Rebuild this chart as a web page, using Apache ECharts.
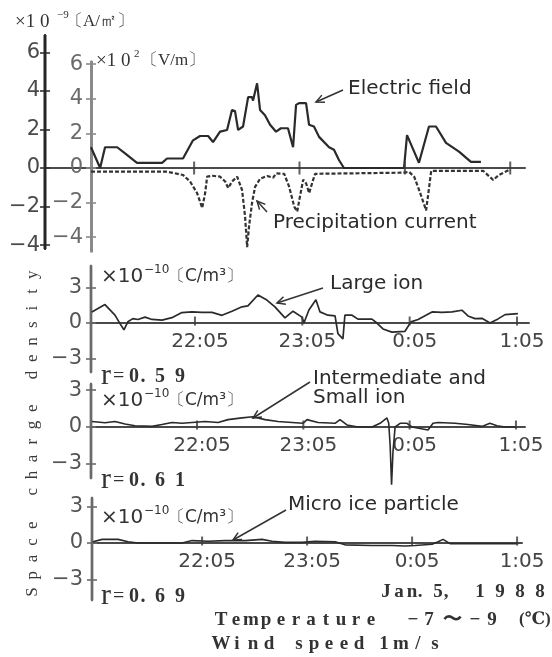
<!DOCTYPE html>
<html><head><meta charset="utf-8">
<script src="https://cdn.jsdelivr.net/npm/echarts@6/dist/echarts.min.js"></script>
<style>html,body{margin:0;padding:0;background:#fff}#c{width:552px;height:657px}</style>
</head><body><div id="c"></div>
<script>
// Time is counted in minutes after 20:00.
const tickTimes = [125, 185, 245, 305];
const timeLabels = ['22:05', '23:05', '0:05', '1:05'];
const fieldTicks = [-4, -2, 0, 2, 4, 6];
const chargeTicks = [-3, 0, 3];

// Electric field, ×10² V/m
const electricField = [[66.3,1.2],[71.5,0],[74.3,1.2],[81.2,1.2],[85.7,0.85],[92.5,0.3],[106.8,0.3],[109.6,0.55],[118.7,0.55],[124.4,1.6],[128.4,1.85],[133.0,1.85],[135.8,1.5],[139.8,2.1],[143.8,2.2],[146.6,3.35],[148.3,3.3],[150.1,2.2],[152.9,2.4],[155.8,4.1],[158.0,4.1],[158.6,3.9],[160.9,4.9],[162.6,3.35],[165.4,3.05],[168.3,2.5],[171.7,2.1],[174.5,2.3],[178.5,2.3],[181.4,1.2],[183.1,3.65],[184.8,3.75],[188.8,3.75],[190.5,2.5],[193.3,2.4],[196.2,1.8],[201.9,1.2],[204.7,1.05],[207.6,0.45],[210.4,0],[244.6,0],[246.3,1.9],[253.1,0.3],[258.8,2.4],[262.8,2.4],[268.5,1.45],[275.9,0.95],[282.7,0.35],[288.4,0.35]];

// Precipitation current, ×10⁻⁹ A/m²
const precipCurrent = [[66.3,-0.19],[109.6,-0.19],[113.0,-0.25],[118.7,-0.36],[122.7,-0.7],[126.7,-1.3],[129.6,-2.07],[131.3,-1.3],[132.4,-0.45],[135.3,-0.4],[139.8,-0.45],[142.7,-0.7],[144.4,-1.04],[146.6,-0.7],[149.5,-0.45],[152.3,-1.14],[154.0,-2.5],[155.2,-4.1],[156.3,-3.0],[158.0,-1.8],[159.7,-0.98],[162.6,-0.55],[166.6,-0.41],[170.0,-0.5],[171.7,-0.28],[176.3,-0.3],[179.1,-0.97],[182.0,-2.0],[183.7,-2.26],[184.8,-1.7],[187.1,-0.6],[188.8,-0.8],[190.5,-1.3],[192.8,-0.6],[193.9,-0.3],[244.0,-0.24],[247.4,-0.2],[250.3,-0.45],[253.1,-1.14],[256.0,-1.9],[257.1,-2.2],[258.8,-1.0],[260.0,-0.15],[289.6,-0.15],[295.3,-0.62],[298.7,-0.35],[304.4,-0.1]];

// Space charge densities, ×10⁻¹⁰ C/m³
const largeIon = [[67.4,0.94],[74.7,1.56],[80.3,0.67],[83.1,-0.05],[85.3,-0.57],[87.5,0.1],[90.3,0.37],[93.1,0.3],[97.1,0.5],[101.0,0.3],[106.6,0.25],[112.1,0.45],[117.7,0.88],[123.3,0.94],[128.9,0.9],[134.5,0.9],[140.1,0.65],[145.7,1.0],[151.3,1.37],[154.6,1.45],[160.2,2.37],[165.2,1.94],[169.7,1.37],[175.3,0.43],[179.8,1.0],[184.8,0.5],[185.9,0.0],[188.7,1.1],[192.6,1.97],[194.9,0.94],[199.3,0.66],[203.3,0.6],[204.9,-0.9],[207.7,-1.34],[208.8,0.66],[212.8,0.66],[216.1,0.33],[223.9,0.33],[226.7,0],[230.1,-0.5],[235.1,-0.77],[242.4,-0.7],[245.7,0.1],[249.7,0.3],[257.5,0.94],[263.1,0.9],[268.7,0.94],[274.2,1.08],[277.6,0.6],[281.5,0.37],[285.4,0.4],[289.9,0],[294.4,0.35],[298.3,0.71],[305.5,0.8]];

const smallIon = [[65.7,0.45],[73.1,0.35],[78.7,0.45],[84.4,0.25],[90.0,0.1],[99.6,0.05],[105.2,0.2],[110.9,0.37],[116.5,0.3],[122.2,0.37],[129.5,0.45],[136.9,0.37],[142.5,0.6],[150.4,0.74],[156.6,0.83],[163.4,0.6],[170.7,0.45],[178.6,0.37],[184.8,0.3],[187.1,0.6],[193.3,0.37],[202.9,0.3],[205.7,0.6],[206.8,0.74],[209.6,0.17],[215.9,0],[223.8,0],[228.3,0.3],[232.2,0.74],[233.2,0.3],[234.0,-1.5],[234.8,-4.7],[235.6,-2.0],[236.8,0],[239.6,0.3],[243.5,0.3],[246.3,0],[255.4,-0.25],[258.2,0.3],[261.0,0.37],[270.6,0.3],[277.9,0.2],[285.8,0.05],[290.3,0.3],[294.3,0.1],[298.8,0],[304.5,0]];

const microIce = [[62.7,0.1],[67.9,0.3],[77.0,0.3],[82.7,0.1],[88.4,0],[113.6,0],[119.3,0.2],[128.4,0.15],[138.1,0.2],[149.6,0.2],[159.3,0.3],[165.0,0.15],[172.4,0.05],[182.1,0.05],[189.6,0.15],[201.0,0.1],[206.7,-0.15],[222.1,-0.2],[233.6,-0.2],[241.0,-0.25],[246.7,-0.2],[256.4,-0.1],[259.9,0.1],[262.7,0.3],[266.7,-0.05],[273.6,-0.05],[305.6,-0.05]];

const correlations = ['0.59', '0.61', '0.69'];

const SANS = '"DejaVu Sans", sans-serif';
const SERIF = '"Liberation Serif", "DejaVu Serif", serif';
const minus = v => String(v).replace('-', '\u2212');

// panel layout: grid box and the value range of each axis
const panels = [
  { grid: { left: 45, top: 35, width: 480, height: 214 }, x: [40.1, 313.4], y: [-4.2, 6.9] },
  { grid: { left: 91, top: 62, width: 434, height: 189 }, x: [66.3, 313.5], y: [-4.8, 6.13] },
  { grid: { left: 91, top: 266, width: 438, height: 106 }, x: [66.9, 311.7], y: [-4.14, 4.82] },
  { grid: { left: 91, top: 384, width: 434, height: 94 }, x: [65.18, 310.1], y: [-4.15, 3.5] },
  { grid: { left: 92, top: 498, width: 430, height: 102 }, x: [62.1, 307.8], y: [-4.67, 3.69] }
];

// main y axis plus a twin that draws the inner half of each "+" tick
function yPair(gi, ticks, lineColor, lineWidth, labelColor, margin) {
  const p = panels[gi];
  const base = { gridIndex: gi, type: 'value', position: 'left', offset: 0,
                 min: p.y[0], max: p.y[1], splitLine: { show: false } };
  const line = { show: true, onZero: false, lineStyle: { color: lineColor, width: lineWidth } };
  return [
    Object.assign({}, base, {
      axisLine: line,
      axisTick: { show: true, customValues: ticks, length: 5, lineStyle: { color: lineColor, width: 1.6 } },
      axisLabel: { customValues: ticks, formatter: minus, fontSize: 21, fontFamily: SANS, color: labelColor, margin }
    }),
    Object.assign({}, base, {
      axisLine: line,
      axisTick: { show: true, inside: true, customValues: ticks, length: 5, lineStyle: { color: lineColor, width: 1.6 } },
      axisLabel: { show: false }
    })
  ];
}

// time axis drawn along the zero level of its panel
function xAxisFor(gi, labels) {
  const p = panels[gi];
  const zeroFromBottom = (0 - p.y[0]) / (p.y[1] - p.y[0]) * p.grid.height;
  return {
    gridIndex: gi, type: 'value', position: 'bottom', offset: -zeroFromBottom,
    min: p.x[0], max: p.x[1], splitLine: { show: false },
    axisLine: { show: true, onZero: false, lineStyle: { color: '#4a4a4a', width: 2 } },
    axisTick: { show: false },
    axisLabel: labels ? {
      customValues: tickTimes,
      formatter: v => timeLabels[tickTimes.indexOf(v)],
      fontSize: 20, fontFamily: SANS, color: '#444', margin: 9, padding: [0, 0, 0, 10]
    } : { show: false }
  };
}

function lineSeries(name, data, xi, yi, width, extra) {
  return Object.assign({
    name, type: 'line', data, xAxisIndex: xi, yAxisIndex: yi, symbol: 'none',
    clip: false, lineStyle: { color: '#2a2a2a', width }, z: 3
  }, extra || {});
}
function tickMarks(xi, yi, h, off) {
  return {
    type: 'scatter', xAxisIndex: xi, yAxisIndex: yi, silent: true, clip: false,
    data: tickTimes.map(t => [t, 0]), symbol: 'rect', symbolSize: [2, h], symbolOffset: [0, off],
    itemStyle: { color: '#3a3a3a' }, z: 4
  };
}

// text helpers
function txt(x, y, text, font, fill, align, extra) {
  return Object.assign({
    type: 'text', x, y, silent: true,
    style: { text, font, fill: fill || '#333', align: align || 'left', verticalAlign: 'middle',
             textAlign: align || 'left', textVerticalAlign: 'middle' }
  }, extra || {});
}
function spaced(str, x0, y, pitch, font, fill) {
  return str.split('').map((ch, i) => txt(x0 + i * pitch, y, ch, font, fill, 'center'));
}
function placed(chars, xs, y, font, fill) {
  return chars.map((ch, i) => txt(xs[i], y, ch, font, fill, 'center'));
}
function arrow(x1, y1, x2, y2, head) {
  const a = Math.atan2(y2 - y1, x2 - x1), L = 9, s = 0.45;
  const out = [{ type: 'polyline', silent: true, shape: { points: [[x1, y1], [x2, y2]] },
                 style: { stroke: '#333', lineWidth: 1.5, fill: null } }];
  if (head) out.push({ type: 'polyline', silent: true,
    shape: { points: [[x2 - L * Math.cos(a - s), y2 - L * Math.sin(a - s)], [x2, y2],
                      [x2 - L * Math.cos(a + s), y2 - L * Math.sin(a + s)]] },
    style: { stroke: '#333', lineWidth: 1.5, fill: null } });
  return out;
}

const graphics = [];
// spine of the current axis, along the left edge of the first panel box
const g0 = panels[0].grid;
graphics.push({ type: 'rect', silent: true, z: 100,
  shape: { x: g0.left - 1.5, y: g0.top, width: 3, height: g0.height },
  style: { fill: '#262626', stroke: null } });
// units
graphics.push(txt(15, 22, '×1 0', '19px ' + SERIF, '#333'));
graphics.push(txt(57, 15, '−9', '11px ' + SERIF, '#333'));
graphics.push(txt(66, 22, '〔A/㎡〕', '17px ' + SERIF, '#333'));
graphics.push(txt(96, 61, '×1 0', '19px ' + SERIF, '#333'));
graphics.push(txt(134, 54, '2', '11px ' + SERIF, '#333'));
graphics.push(txt(141, 61, '〔V/m〕', '17px ' + SERIF, '#333'));
[277, 401, 518].forEach(y => {
  graphics.push(txt(101, y, '×10', '20px ' + SANS, '#333'));
  graphics.push(txt(144, y - 7, '−10', '12px ' + SANS, '#333'));
  graphics.push(txt(168, y, '〔C/m³〕', '17px ' + SANS, '#333'));
});
// correlation coefficients
[377, 481, 597].forEach((y, i) => {
  graphics.push(txt(101, y - 1, 'r', '30px ' + SERIF, '#333'));
  graphics.push(txt(113, y, '=', '20px ' + SERIF, '#333'));
  graphics.push(...placed(correlations[i].split(''), [134, 143, 160, 180], y, 'bold 20px ' + SERIF, '#333'));
});
// series labels and arrows
graphics.push(txt(348, 89, 'Electric field', '20px ' + SANS, '#2a2a2a'));
graphics.push(...arrow(343, 90, 316, 102, true));
graphics.push(txt(273, 223, 'Precipitation current', '20px ' + SANS, '#2a2a2a'));
graphics.push(...arrow(267, 212, 257, 201, true));
graphics.push(txt(330, 284, 'Large ion', '20px ' + SANS, '#2a2a2a'));
graphics.push(...arrow(323, 288, 277, 303, true));
graphics.push(txt(313, 379, 'Intermediate and', '20px ' + SANS, '#2a2a2a'));
graphics.push(txt(313, 398, 'Small ion', '20px ' + SANS, '#2a2a2a'));
graphics.push(...arrow(310, 382, 253, 418, true));
graphics.push(txt(288, 505, 'Micro ice particle', '20px ' + SANS, '#2a2a2a'));
graphics.push(...arrow(286, 510, 233, 540, true));
// vertical axis title
'Space charge density'.split('').forEach((ch, i) => {
  graphics.push(txt(33, 592 - i * 16.7, ch, '17px ' + SERIF, '#3a3a3a', 'center', { rotation: Math.PI / 2 }));
});
// observation notes
const NOTE = 'bold 19px ' + SERIF;
graphics.push(...placed(['J', 'a', 'n', '.', '5', ','], [386, 399, 412, 420, 438, 446], 592, NOTE));
graphics.push(...spaced('1988', 480, 592, 20, NOTE));
graphics.push(...spaced('Temperature', 221, 620, 15, NOTE));
graphics.push(...placed(['−', '7', '〜', '−', '9'], [413, 429, 452, 475, 492], 620, NOTE));
graphics.push(txt(519, 620, '(℃)', 'bold 17px ' + SERIF));
graphics.push(...spaced('Wind', 221, 644, 16, NOTE));
graphics.push(...spaced('speed', 299, 644, 15, NOTE));
graphics.push(...spaced('1m/s', 384, 644, 17, NOTE));

const option = {
  animation: false,
  backgroundColor: '#ffffff',
  grid: panels.map(p => p.grid),
  xAxis: [
    xAxisFor(0, false),
    Object.assign(xAxisFor(1, false), { show: false }),
    xAxisFor(2, true),
    xAxisFor(3, true),
    xAxisFor(4, true)
  ],
  yAxis: [].concat(
    yPair(0, fieldTicks, '#333', 2, '#4a4a4a', 5),
    yPair(1, fieldTicks, '#8a8a8a', 3, '#6a6a6a', 8),
    yPair(2, chargeTicks, '#6a6a6a', 2.4, '#555', 9),
    yPair(3, chargeTicks, '#6a6a6a', 2.4, '#555', 9),
    yPair(4, chargeTicks, '#6a6a6a', 2.4, '#555', 9)
  ),
  series: [
    lineSeries('Precipitation current', precipCurrent, 0, 0, 2, { lineStyle: { color: '#333', width: 2.2, type: [4, 2] } }),
    lineSeries('Electric field', electricField, 1, 2, 2.2),
    tickMarks(0, 0, 13, 0),
    lineSeries('Large ion', largeIon, 2, 4, 1.7),
    tickMarks(2, 4, 9, -2),
    lineSeries('Intermediate and Small ion', smallIon, 3, 6, 1.6),
    tickMarks(3, 6, 9, -2),
    lineSeries('Micro ice particle', microIce, 4, 8, 1.6),
    tickMarks(4, 8, 9, -2)
  ],
  graphic: graphics
};
const chart = echarts.init(document.getElementById('c'), null, { renderer: 'canvas' });
chart.setOption(option);
</script></body></html>
